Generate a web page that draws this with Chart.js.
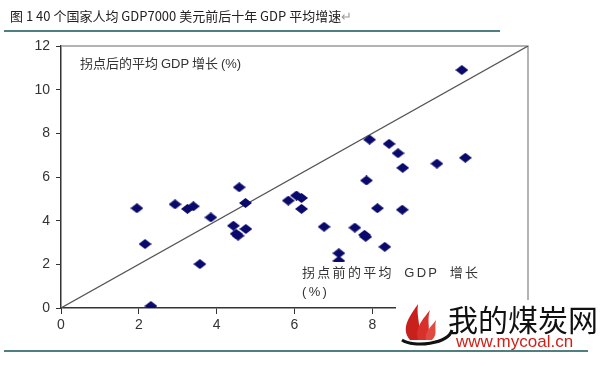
<!DOCTYPE html>
<html>
<head>
<meta charset="utf-8">
<script src="https://cdn.jsdelivr.net/npm/chart.js@4.4.0/dist/chart.umd.min.js"></script>
<style>
    html, body { margin: 0; padding: 0; background: #fff; }
    #wrap { position: relative; width: 604px; height: 366px; overflow: hidden; }
    #gdpChart { position: absolute; left: 0; top: 0; }
    .title { position: absolute; left: 10px; top: 6px; font: 13px "Noto Sans CJK SC", sans-serif; color: #222; white-space: nowrap; }
    .title .ret { color: #999; }
    .rule { position: absolute; height: 2px; background: #4f7f80; }
    .note { position: absolute; font: 13px "Noto Sans CJK SC", "Liberation Sans", sans-serif; color: #333; white-space: nowrap; background: #fff; }
    .note .en { font-family: "Liberation Sans", Arial, sans-serif; }
    .logo { position: absolute; left: 396px; top: 300px; width: 208px; height: 50px; background: #fff; }
    .logo .cn { position: absolute; left: 52px; top: -4px; font: 30px "Noto Sans CJK SC", sans-serif; color: #111; white-space: nowrap; }
    .logo .url { position: absolute; left: 60px; top: 32px; font: 17px "Liberation Sans", Arial, sans-serif; color: #d02018; white-space: nowrap; }
    .logo svg { position: absolute; left: 0; top: 0; }
</style>
</head>
<body>
<div id="wrap">
    <canvas id="gdpChart" width="604" height="366"></canvas>
    <div class="title">图 1 40 个国家人均 GDP7000 美元前后十年 GDP 平均增速<span class="ret">↵</span></div>
    <div class="rule" style="left:4px; top:30px; width:496px;"></div>
    <div class="rule" style="left:4px; top:350px; width:584px;"></div>
    <div class="note" style="left:80px; top:53px;">拐点后的平均 <span class="en">GDP</span> 增长 <span class="en">(%)</span></div>
    <div class="note" style="left:302px; top:262px; letter-spacing:2.3px;">拐点前的平均&nbsp; <span class="en">GDP</span>&nbsp; 增长<br><span class="en">(%)</span></div>
    <div class="logo">
        <svg width="60" height="50" viewBox="0 0 60 50">
            <path d="M6 40 C 18 48, 52 44, 56 30" stroke="#111" stroke-width="3" fill="none"/>
            <path d="M14 40 C 4 28, 14 16, 22 4 C 20 18, 26 26, 22 40 Z" fill="#c8201c"/>
            <path d="M22 40 C 18 28, 28 18, 34 10 C 30 22, 36 30, 30 40 Z" fill="#d8302a"/>
            <path d="M30 40 C 28 32, 36 26, 40 20 C 38 30, 42 34, 36 40 Z" fill="#e04a40"/>
        </svg>
        <span class="cn">我的煤炭网</span>
        <span class="url">www.mycoal.cn</span>
    </div>
</div>
<script>
// GDP growth ten years before (x) and after (y) reaching 7000 USD per capita
const beforeGrowth = [1.95, 2.93, 3.25, 3.40, 2.16, 2.31, 3.57, 3.85, 4.58, 4.74,
                      4.43, 4.75, 4.55, 4.50, 7.93, 8.43, 8.66, 8.78, 9.66, 10.39,
                      7.85, 5.84, 6.05, 6.18, 6.18, 8.13, 8.77, 6.76, 7.55, 7.83,
                      7.80, 8.32, 7.14, 7.14, 10.30];
const afterGrowth  = [4.57, 4.75, 4.54, 4.66, 2.93, 0.09, 2.01, 4.15, 5.53, 4.81,
                      3.77, 3.62, 3.31, 3.40, 7.71, 7.52, 7.09, 6.42, 6.61, 6.88,
                      5.84, 4.92, 5.15, 5.04, 4.54, 4.57, 4.50, 3.72, 3.68, 3.26,
                      3.35, 2.80, 2.51, 2.16, 10.90];
// 45 degree reference line
const refLineX = [0, 12];
const refLineY = [0, 12];
const axisTicks = [0, 2, 4, 6, 8, 10, 12];

function diamondImage(w, h, color) {
    const c = document.createElement('canvas');
    c.width = w;
    c.height = h;
    const g = c.getContext('2d');
    g.fillStyle = color;
    g.beginPath();
    g.moveTo(w / 2, 0);
    g.lineTo(w, h / 2);
    g.lineTo(w / 2, h);
    g.lineTo(0, h / 2);
    g.closePath();
    g.fill();
    return c;
}

// light frame on top and right side of the plot
const framePlugin = {
    id: 'frame',
    beforeDatasetsDraw(chart) {
        const a = chart.chartArea;
        const ctx = chart.ctx;
        ctx.save();
        ctx.strokeStyle = '#9a9a9a';
        ctx.lineWidth = 1.5;
        ctx.beginPath();
        ctx.moveTo(a.left, a.top);
        ctx.lineTo(a.right, a.top);
        ctx.lineTo(a.right, a.bottom);
        ctx.stroke();
        ctx.restore();
    }
};

const ctx = document.getElementById('gdpChart');
new Chart(ctx, {
    type: 'scatter',
    data: {
        datasets: [{
            label: 'countries',
            data: beforeGrowth.map((x, i) => ({ x: x, y: afterGrowth[i] })),
            pointStyle: diamondImage(13, 10, '#0a0a6c'),
            pointRadius: 5,
            order: 1
        }, {
            label: 'y = x',
            type: 'line',
            data: refLineX.map((x, i) => ({ x: x, y: refLineY[i] })),
            borderColor: '#555',
            borderWidth: 1.2,
            pointRadius: 0,
            fill: false,
            order: 2
        }]
    },
    options: {
        responsive: false,
        animation: false,
        layout: { padding: { top: 46, right: 76, left: 0, bottom: 0 } },
        plugins: {
            legend: { display: false },
            tooltip: { enabled: false }
        },
        scales: {
            x: {
                type: 'linear',
                min: 0,
                max: 12,
                afterBuildTicks: (s) => { s.ticks = axisTicks.map(v => ({ value: v })); },
                afterFit: (s) => { s.height = 58; },
                ticks: {
                    color: '#333',
                    padding: 3,
                    font: { family: 'Liberation Sans', size: 14 }
                },
                grid: { drawOnChartArea: false, tickLength: 6, color: '#333' },
                border: { color: '#333', width: 1.5 }
            },
            y: {
                type: 'linear',
                min: 0,
                max: 12,
                afterBuildTicks: (s) => { s.ticks = axisTicks.map(v => ({ value: v })); },
                afterFit: (s) => { s.width = 61; },
                ticks: {
                    color: '#333',
                    padding: 6,
                    font: { family: 'Liberation Sans', size: 14 }
                },
                grid: { drawOnChartArea: false, tickLength: 5, color: '#333' },
                border: { color: '#333', width: 1.5 }
            }
        }
    },
    plugins: [framePlugin]
});
</script>
</body>
</html>
